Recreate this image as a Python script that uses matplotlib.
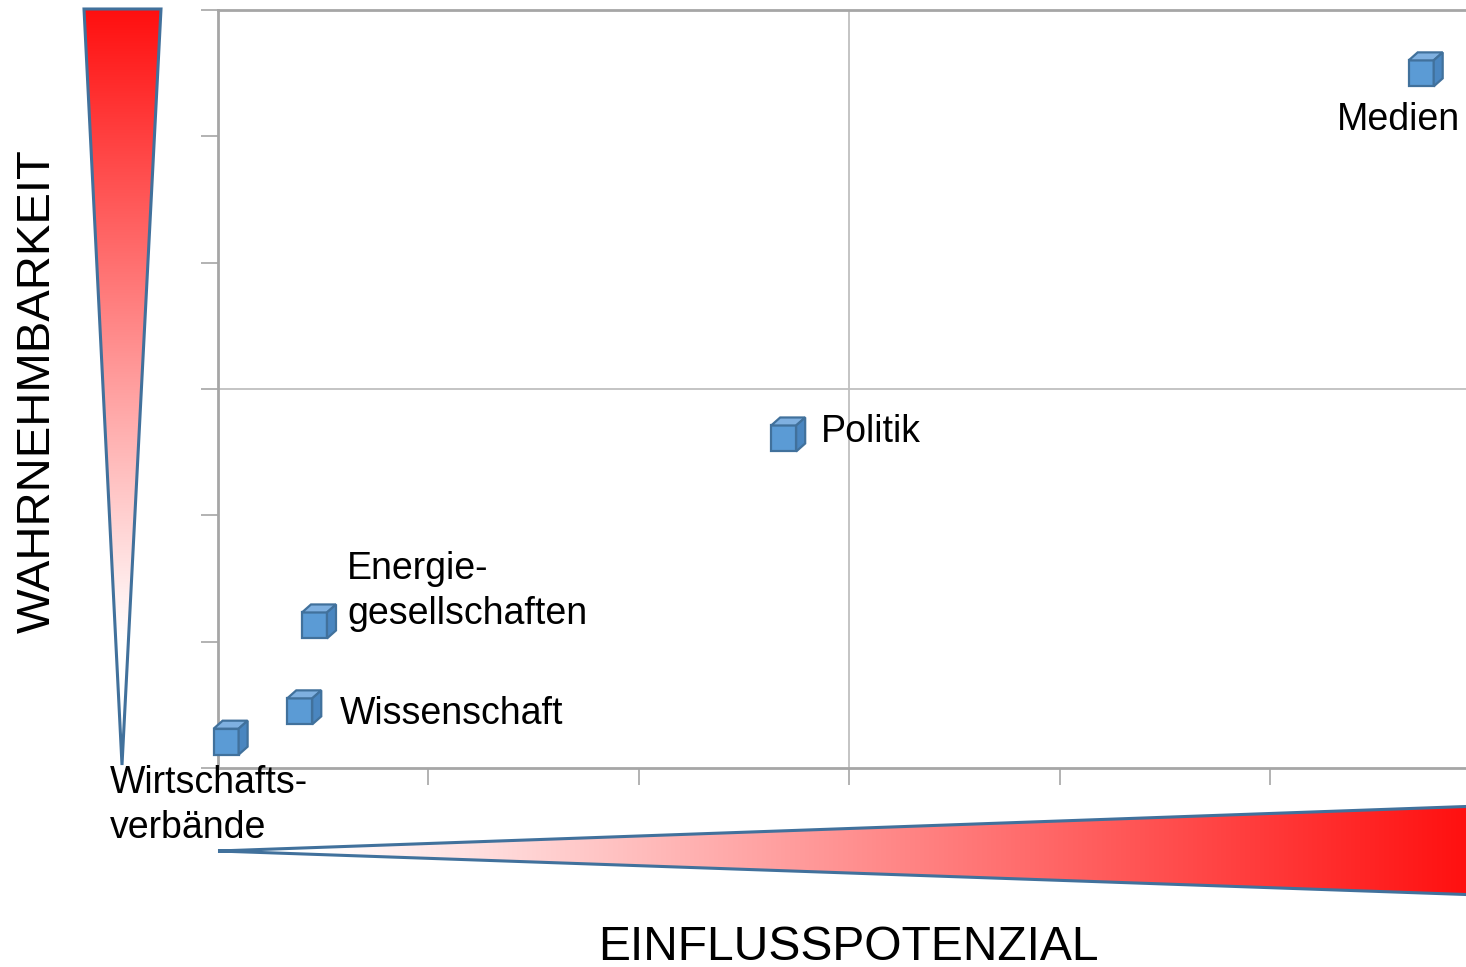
import numpy as np
import matplotlib
matplotlib.use("Agg")
import matplotlib.pyplot as plt
from matplotlib.patches import Polygon
from matplotlib.transforms import Affine2D, ScaledTranslation

plt.rcParams['font.family'] = ['Liberation Sans', 'DejaVu Sans']

# Daten (aus dem Bild geschätzt)
akteure = ['Wirtschafts-\nverbände', 'Wissenschaft', 'Energie-\ngesellschaften', 'Politik', 'Medien']
einfluss = [0.06, 0.41, 0.48, 2.71, 5.74]
wahrnehmung = [0.24, 0.48, 1.16, 2.64, 5.53]

# Label-Versatz in Pixeln (Text relativ zum Würfel)
label_offsets = [(-121, -68), (36, -7), (28, 30), (33, 2), (-27, -51)]
label_ha = ['left', 'left', 'left', 'left', 'center']

W, H = 1466, 967
fig = plt.figure(figsize=(W / 100, H / 100), dpi=100)

# Hintergrund-Achse in Pixelkoordinaten für die Verlaufsdreiecke
bg = fig.add_axes([0, 0, 1, 1], zorder=0)
bg.set_xlim(0, W)
bg.set_ylim(H, 0)
bg.axis('off')

edge_blue = '#41719C'


def gradient_triangle(ax, verts, direction, red_at, white_at):
    """Dreieck mit rot-weiß Verlauf zeichnen (red_at/white_at in Pixeln)."""
    verts = np.array(verts, dtype=float)
    x0, x1 = verts[:, 0].min(), verts[:, 0].max()
    y0, y1 = verts[:, 1].min(), verts[:, 1].max()
    if direction == 'down':
        pos = np.linspace(y0, y1, 400)
        g = np.clip((pos - red_at) / (white_at - red_at), 0, 1)[:, None]
    else:
        pos = np.linspace(x0, x1, 600)
        g = np.clip((pos - red_at) / (white_at - red_at), 0, 1)[None, :]
    g = 0.06 + 0.94 * g
    img = np.ones(g.shape + (3,))
    img[..., 1] = g
    img[..., 2] = g
    poly = Polygon(verts, closed=True, facecolor='none', edgecolor=edge_blue,
                   linewidth=2.2, zorder=3)
    ax.add_patch(poly)
    im = ax.imshow(img, extent=(x0, x1, y1, y0), origin='upper', aspect='auto',
                   interpolation='bilinear', zorder=2)
    im.set_clip_path(poly)


gradient_triangle(bg, [(84, 9), (161, 9), (122, 765)], 'down', 9, 640)
gradient_triangle(bg, [(218, 851), (1480, 806), (1480, 895)], 'right', 1470, 320)

# Hauptdiagramm
ax = fig.add_axes([218 / W, 1 - 768 / H, 1262.4 / W, 758 / H], zorder=1)
ax.set_facecolor('none')
ax.set_xlim(0, 6)
ax.set_ylim(0, 6)
ax.set_xticks(np.arange(0, 7))
ax.set_yticks(np.arange(0, 7))
ax.set_xticklabels([])
ax.set_yticklabels([])
ax.tick_params(direction='out', length=12, width=1.2, color='#A6A6A6')
for side in ['left', 'bottom', 'top', 'right']:
    ax.spines[side].set_color('#A6A6A6')
    ax.spines[side].set_linewidth(2.0)
ax.axvline(3, color='#BFBFBF', linewidth=1.3, zorder=0)
ax.axhline(3, color='#BFBFBF', linewidth=1.3, zorder=0)

# Würfel-Marker (Pixel relativ zum Mittelpunkt, y nach oben)
front = [(-17, -17), (8, -17), (8, 9), (-17, 9)]
top = [(-17, 9), (8, 9), (17, 17), (-8, 17)]
side = [(8, -17), (17, -9), (17, 17), (8, 9)]
for x, y in zip(einfluss, wahrnehmung):
    tr = Affine2D() + ScaledTranslation(x, y, ax.transData)
    for verts, fc in [(front, '#5B9BD5'), (top, '#7FB0E0'), (side, '#4A86C0')]:
        ax.add_patch(Polygon(verts, closed=True, facecolor=fc, edgecolor=edge_blue,
                             linewidth=1.6, transform=tr, clip_on=False, zorder=4))

for name, x, y, off, ha in zip(akteure, einfluss, wahrnehmung, label_offsets, label_ha):
    ax.annotate(name, (x, y), xytext=off, textcoords='offset pixels',
                ha=ha, va='center', fontsize=27, linespacing=1.32,
                annotation_clip=False, zorder=5)

# Achsentitel
fig.text(848 / W, 1 - 947 / H, 'EINFLUSSPOTENZIAL', ha='center', va='center', fontsize=34.6)
fig.text(38 / W, 1 - 391 / H, 'WAHRNEHMBARKEIT', ha='center', va='center',
         rotation=90, fontsize=34)

fig.savefig('out.png', dpi=100, facecolor='white')
